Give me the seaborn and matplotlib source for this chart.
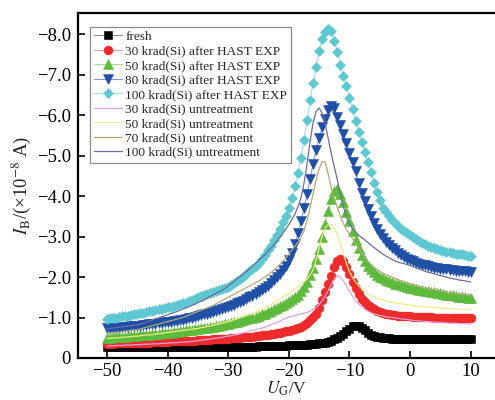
import numpy as np
import matplotlib
matplotlib.use("Agg")
import matplotlib.pyplot as plt
import seaborn as sns

# Gate-voltage sweep, -50 V to 10 V in 0.5 V steps
gate_v = np.linspace(-50, 10, 121)

# Base current magnitudes, in units of 1e-8 A (rows of ten points, 5 V per row)
fresh = [
    0.26, 0.26, 0.26, 0.26, 0.26, 0.26, 0.26, 0.26, 0.26, 0.26,
    0.26, 0.26, 0.26, 0.27, 0.27, 0.27, 0.27, 0.27, 0.27, 0.27,
    0.27, 0.27, 0.27, 0.27, 0.27, 0.27, 0.27, 0.27, 0.27, 0.27,
    0.27, 0.27, 0.27, 0.27, 0.28, 0.28, 0.28, 0.28, 0.28, 0.28,
    0.28, 0.28, 0.28, 0.28, 0.28, 0.28, 0.28, 0.28, 0.28, 0.28,
    0.29, 0.29, 0.29, 0.29, 0.29, 0.29, 0.30, 0.30, 0.30, 0.30,
    0.31, 0.31, 0.31, 0.32, 0.32, 0.33, 0.33, 0.34, 0.34, 0.35,
    0.36, 0.37, 0.38, 0.40, 0.43, 0.46, 0.50, 0.54, 0.60, 0.66,
    0.72, 0.78, 0.80, 0.78, 0.74, 0.68, 0.62, 0.57, 0.54, 0.52,
    0.51, 0.50, 0.49, 0.49, 0.48, 0.48, 0.48, 0.48, 0.48, 0.48,
    0.48, 0.48, 0.48, 0.48, 0.48, 0.48, 0.48, 0.48, 0.48, 0.48,
    0.48, 0.47, 0.47, 0.47, 0.47, 0.47, 0.47, 0.47, 0.47, 0.47,
    0.47,
]
hast_30 = [
    0.35, 0.35, 0.35, 0.36, 0.36, 0.36, 0.36, 0.37, 0.37, 0.37,
    0.37, 0.38, 0.38, 0.38, 0.38, 0.39, 0.39, 0.39, 0.40, 0.40,
    0.40, 0.41, 0.41, 0.41, 0.42, 0.42, 0.42, 0.43, 0.43, 0.43,
    0.44, 0.44, 0.45, 0.45, 0.45, 0.46, 0.46, 0.47, 0.47, 0.48,
    0.48, 0.49, 0.49, 0.50, 0.50, 0.51, 0.52, 0.52, 0.53, 0.54,
    0.55, 0.56, 0.57, 0.58, 0.59, 0.60, 0.61, 0.63, 0.64, 0.66,
    0.67, 0.69, 0.71, 0.74, 0.77, 0.81, 0.86, 0.93, 1.01, 1.10,
    1.24, 1.43, 1.62, 1.82, 2.03, 2.24, 2.40, 2.46, 2.40, 2.26,
    2.08, 1.88, 1.72, 1.58, 1.47, 1.38, 1.31, 1.25, 1.20, 1.17,
    1.14, 1.11, 1.09, 1.08, 1.07, 1.06, 1.05, 1.04, 1.04, 1.03,
    1.03, 1.02, 1.02, 1.02, 1.01, 1.01, 1.01, 1.01, 1.00, 1.00,
    1.00, 1.00, 1.00, 0.99, 0.99, 0.99, 0.99, 0.99, 0.99, 0.98,
    0.98,
]
hast_50 = [
    0.50, 0.50, 0.51, 0.51, 0.52, 0.52, 0.53, 0.54, 0.54, 0.55,
    0.55, 0.56, 0.57, 0.57, 0.58, 0.59, 0.59, 0.60, 0.61, 0.61,
    0.62, 0.63, 0.64, 0.65, 0.66, 0.67, 0.68, 0.69, 0.70, 0.71,
    0.72, 0.73, 0.74, 0.75, 0.76, 0.77, 0.78, 0.80, 0.81, 0.83,
    0.84, 0.86, 0.88, 0.90, 0.92, 0.94, 0.96, 0.98, 1.00, 1.02,
    1.05, 1.08, 1.10, 1.13, 1.16, 1.20, 1.24, 1.28, 1.32, 1.36,
    1.40, 1.45, 1.50, 1.57, 1.65, 1.75, 1.88, 2.04, 2.22, 2.44,
    2.70, 3.00, 3.32, 3.64, 3.92, 4.12, 4.18, 4.05, 3.85, 3.62,
    3.38, 3.14, 2.92, 2.72, 2.54, 2.40, 2.28, 2.19, 2.12, 2.06,
    2.01, 1.97, 1.93, 1.90, 1.87, 1.84, 1.82, 1.80, 1.78, 1.76,
    1.74, 1.72, 1.71, 1.69, 1.68, 1.66, 1.65, 1.64, 1.62, 1.61,
    1.60, 1.59, 1.57, 1.56, 1.55, 1.54, 1.52, 1.51, 1.50, 1.49,
    1.48,
]
hast_80 = [
    0.73, 0.74, 0.74, 0.75, 0.75, 0.76, 0.77, 0.77, 0.78, 0.79,
    0.80, 0.80, 0.81, 0.82, 0.83, 0.84, 0.85, 0.86, 0.87, 0.88,
    0.89, 0.90, 0.91, 0.92, 0.94, 0.95, 0.97, 0.98, 1.00, 1.02,
    1.04, 1.06, 1.08, 1.10, 1.12, 1.14, 1.16, 1.18, 1.21, 1.23,
    1.26, 1.29, 1.32, 1.35, 1.38, 1.42, 1.46, 1.50, 1.54, 1.58,
    1.63, 1.68, 1.73, 1.79, 1.85, 1.92, 2.00, 2.08, 2.17, 2.28,
    2.42, 2.60, 2.82, 3.08, 3.38, 3.70, 4.05, 4.42, 4.80, 5.15,
    5.45, 5.70, 5.92, 6.12, 6.24, 6.18, 5.96, 5.76, 5.55, 5.32,
    5.08, 4.85, 4.62, 4.32, 4.08, 3.88, 3.68, 3.50, 3.34, 3.20,
    3.07, 2.96, 2.87, 2.79, 2.72, 2.66, 2.60, 2.55, 2.50, 2.46,
    2.42, 2.39, 2.36, 2.33, 2.31, 2.29, 2.27, 2.25, 2.23, 2.22,
    2.21, 2.20, 2.19, 2.18, 2.17, 2.16, 2.15, 2.14, 2.14, 2.13,
    2.12,
]
hast_100 = [
    0.97, 0.98, 0.99, 1.00, 1.01, 1.03, 1.04, 1.05, 1.07, 1.08,
    1.10, 1.11, 1.12, 1.14, 1.15, 1.16, 1.18, 1.20, 1.21, 1.23,
    1.25, 1.27, 1.29, 1.31, 1.33, 1.35, 1.37, 1.40, 1.43, 1.46,
    1.50, 1.53, 1.55, 1.58, 1.60, 1.63, 1.65, 1.68, 1.71, 1.73,
    1.76, 1.80, 1.85, 1.90, 1.95, 2.01, 2.07, 2.14, 2.21, 2.28,
    2.36, 2.45, 2.55, 2.66, 2.78, 2.91, 3.05, 3.20, 3.36, 3.52,
    3.70, 3.95, 4.25, 4.58, 4.95, 5.40, 5.88, 6.38, 6.80, 7.20,
    7.58, 7.88, 8.06, 8.14, 8.08, 7.85, 7.56, 7.25, 6.98, 6.72,
    6.43, 6.15, 5.87, 5.60, 5.35, 5.10, 4.85, 4.60, 4.33, 4.10,
    3.90, 3.72, 3.60, 3.50, 3.42, 3.34, 3.27, 3.20, 3.14, 3.08,
    3.03, 2.98, 2.93, 2.89, 2.85, 2.81, 2.78, 2.75, 2.72, 2.69,
    2.67, 2.65, 2.63, 2.61, 2.60, 2.58, 2.57, 2.56, 2.55, 2.53,
    2.52,
]
untreated_30 = [
    0.30, 0.30, 0.30, 0.31, 0.31, 0.31, 0.32, 0.32, 0.32, 0.33,
    0.33, 0.33, 0.34, 0.34, 0.34, 0.35, 0.35, 0.35, 0.36, 0.36,
    0.37, 0.37, 0.38, 0.38, 0.39, 0.39, 0.40, 0.40, 0.41, 0.42,
    0.43, 0.44, 0.45, 0.46, 0.47, 0.48, 0.49, 0.50, 0.51, 0.53,
    0.54, 0.55, 0.57, 0.58, 0.60, 0.62, 0.64, 0.66, 0.68, 0.70,
    0.72, 0.74, 0.76, 0.79, 0.82, 0.85, 0.88, 0.91, 0.95, 0.98,
    1.01, 1.03, 1.05, 1.07, 1.09, 1.11, 1.13, 1.16, 1.20, 1.25,
    1.32, 1.42, 1.54, 1.67, 1.82, 1.96, 2.04, 2.00, 1.90, 1.78,
    1.65, 1.53, 1.42, 1.34, 1.27, 1.21, 1.16, 1.12, 1.09, 1.07,
    1.05, 1.04, 1.02, 1.01, 1.00, 0.99, 0.98, 0.97, 0.96, 0.95,
    0.94, 0.93, 0.92, 0.92, 0.91, 0.90, 0.90, 0.89, 0.89, 0.88,
    0.88, 0.87, 0.87, 0.86, 0.86, 0.86, 0.85, 0.85, 0.85, 0.84,
    0.84,
]
untreated_50 = [
    0.48, 0.49, 0.49, 0.50, 0.50, 0.51, 0.52, 0.52, 0.53, 0.54,
    0.54, 0.55, 0.56, 0.57, 0.57, 0.58, 0.59, 0.60, 0.61, 0.62,
    0.63, 0.64, 0.65, 0.66, 0.67, 0.68, 0.69, 0.70, 0.71, 0.72,
    0.73, 0.75, 0.76, 0.78, 0.79, 0.81, 0.83, 0.84, 0.86, 0.88,
    0.90, 0.92, 0.95, 0.97, 1.00, 1.02, 1.05, 1.08, 1.11, 1.14,
    1.17, 1.20, 1.24, 1.28, 1.32, 1.36, 1.40, 1.45, 1.50, 1.55,
    1.60, 1.65, 1.70, 1.76, 1.82, 1.88, 1.95, 2.05, 2.18, 2.42,
    2.72, 3.02, 3.22, 3.30, 3.29, 3.20, 3.03, 2.82, 2.58, 2.33,
    2.13, 1.99, 1.88, 1.79, 1.72, 1.65, 1.59, 1.55, 1.51, 1.48,
    1.45, 1.43, 1.41, 1.39, 1.37, 1.36, 1.35, 1.34, 1.33, 1.32,
    1.31, 1.30, 1.29, 1.28, 1.28, 1.27, 1.26, 1.26, 1.25, 1.24,
    1.24, 1.23, 1.23, 1.22, 1.22, 1.21, 1.21, 1.20, 1.20, 1.19,
    1.19,
]
untreated_70 = [
    0.60, 0.61, 0.62, 0.63, 0.64, 0.65, 0.66, 0.67, 0.68, 0.69,
    0.70, 0.72, 0.74, 0.76, 0.78, 0.80, 0.82, 0.84, 0.86, 0.88,
    0.90, 0.92, 0.94, 0.96, 0.98, 1.00, 1.03, 1.06, 1.09, 1.12,
    1.15, 1.18, 1.21, 1.24, 1.27, 1.30, 1.34, 1.38, 1.42, 1.46,
    1.50, 1.54, 1.58, 1.62, 1.66, 1.70, 1.74, 1.78, 1.82, 1.86,
    1.90, 1.95, 2.00, 2.05, 2.11, 2.17, 2.24, 2.31, 2.39, 2.47,
    2.58, 2.67, 2.76, 2.86, 2.98, 3.15, 3.40, 3.72, 4.06, 4.40,
    4.68, 4.86, 4.84, 4.55, 4.20, 3.95, 3.72, 3.50, 3.32, 3.18,
    3.06, 2.95, 2.84, 2.72, 2.60, 2.50, 2.40, 2.32, 2.25, 2.19,
    2.14, 2.10, 2.06, 2.03, 2.00, 1.97, 1.94, 1.91, 1.89, 1.86,
    1.84, 1.81, 1.79, 1.77, 1.75, 1.73, 1.71, 1.69, 1.68, 1.66,
    1.65, 1.64, 1.63, 1.62, 1.61, 1.60, 1.59, 1.58, 1.57, 1.56,
    1.56,
]
untreated_100 = [
    0.72, 0.73, 0.74, 0.75, 0.76, 0.77, 0.78, 0.79, 0.80, 0.81,
    0.82, 0.84, 0.86, 0.88, 0.91, 0.94, 0.97, 0.99, 1.02, 1.04,
    1.07, 1.10, 1.12, 1.15, 1.18, 1.21, 1.24, 1.27, 1.30, 1.33,
    1.37, 1.40, 1.44, 1.48, 1.52, 1.56, 1.60, 1.64, 1.68, 1.73,
    1.78, 1.84, 1.90, 1.96, 2.02, 2.08, 2.14, 2.20, 2.27, 2.34,
    2.41, 2.48, 2.55, 2.63, 2.71, 2.79, 2.88, 2.98, 3.08, 3.19,
    3.30, 3.42, 3.56, 3.74, 3.96, 4.32, 4.80, 5.35, 5.82, 6.10,
    6.18, 6.05, 5.78, 5.42, 5.05, 4.72, 4.40, 4.05, 3.74, 3.48,
    3.32, 3.20, 3.11, 3.04, 2.98, 2.92, 2.86, 2.80, 2.74, 2.68,
    2.62, 2.57, 2.52, 2.48, 2.44, 2.40, 2.37, 2.35, 2.33, 2.31,
    2.29, 2.26, 2.23, 2.20, 2.17, 2.14, 2.12, 2.10, 2.08, 2.06,
    2.04, 2.02, 2.00, 1.98, 1.96, 1.95, 1.93, 1.92, 1.91, 1.89,
    1.88,
]

x_ticks = [-50, -40, -30, -20, -10, 0, 10]
y_ticks = [0, -1, -2, -3, -4, -5, -6, -7, -8]
y_tick_labels = ["0", "\u22121.0", "\u22122.0", "\u22123.0", "\u22124.0",
                 "\u22125.0", "\u22126.0", "\u22127.0", "\u22128.0"]

# (label, values, marker colour, joining-line colour, marker, marker size)
hast_series = [
    ("fresh", fresh, "#000000", "#8a8a8a", "s", 5.4),
    ("30 krad(Si) after HAST EXP", hast_30, "#ee2a2a", "#f5a0a0", "o", 6.4),
    ("50 krad(Si) after HAST EXP", hast_50, "#5cbb3c", "#a6dc92", "^", 7.0),
    ("80 krad(Si) after HAST EXP", hast_80, "#1f4fa6", "#7f9bd2", "v", 7.0),
    ("100 krad(Si) after HAST EXP", hast_100, "#5ec8d2", "#9fe0e6", "D", 5.6),
]
untreated_series = [
    ("30 krad(Si) untreatment", untreated_30, "#d7a3e0"),
    ("50 krad(Si) untreatment", untreated_50, "#eeee84"),
    ("70 krad(Si) untreatment", untreated_70, "#b3a775"),
    ("100 krad(Si) untreatment", untreated_100, "#6c6c9c"),
]

sns.set_theme(style="ticks")
plt.rcParams["font.family"] = ["Liberation Serif", "DejaVu Serif"]
plt.rcParams["mathtext.fontset"] = "stix"
plt.rcParams["xtick.direction"] = "in"
plt.rcParams["ytick.direction"] = "in"

fig = plt.figure(figsize=(4.95, 4.0), dpi=100)
ax = fig.add_axes([78 / 495, 42 / 400, 1 - 78 / 495, 345 / 400])

for label, vals, mcolor, lcolor, marker, ms in hast_series:
    sns.lineplot(x=gate_v, y=-np.asarray(vals), ax=ax, label=label,
                 color=lcolor, linewidth=0.8, marker=marker, markersize=ms,
                 markerfacecolor=mcolor, markeredgecolor=mcolor,
                 markeredgewidth=0.4, estimator=None, sort=False)

for label, vals, color in untreated_series:
    sns.lineplot(x=gate_v, y=-np.asarray(vals), ax=ax, label=label,
                 color=color, linewidth=0.9, estimator=None, sort=False)

ax.set_xlim(-54.78, 14.0)
ax.set_ylim(0, -8.53)
ax.set_xticks(x_ticks)
ax.set_xticklabels([f"{t}".replace("-", "\u2212") for t in x_ticks])
ax.set_yticks(y_ticks)
ax.set_yticklabels(y_tick_labels)
ax.tick_params(axis="both", which="both", direction="in", length=5,
               width=1.2, labelsize=13.5, pad=5, colors="black")
ax.tick_params(axis="x", pad=3.5)

for side in ("left", "bottom", "top"):
    ax.spines[side].set_linewidth(1.6)
    ax.spines[side].set_color("black")
ax.spines["right"].set_visible(False)

ax.set_xlabel(r"$U_{\rm G}$/V", fontsize=12.5, labelpad=0)
ax.set_ylabel(r"$I_{\rm B}$/(×10$^{-8}$ A)", fontsize=13.5, labelpad=3)

leg = ax.legend(loc="upper left", bbox_to_anchor=(12 / 417, (358 - 26.7) / 345),
                borderaxespad=0, fontsize=9.6, frameon=True, fancybox=False,
                edgecolor="#8c8c8c", framealpha=1, handlelength=2.1,
                handletextpad=0.25, labelspacing=0.16, borderpad=0.3)
leg.get_frame().set_linewidth(0.9)

fig.savefig("out.png", dpi=100)
